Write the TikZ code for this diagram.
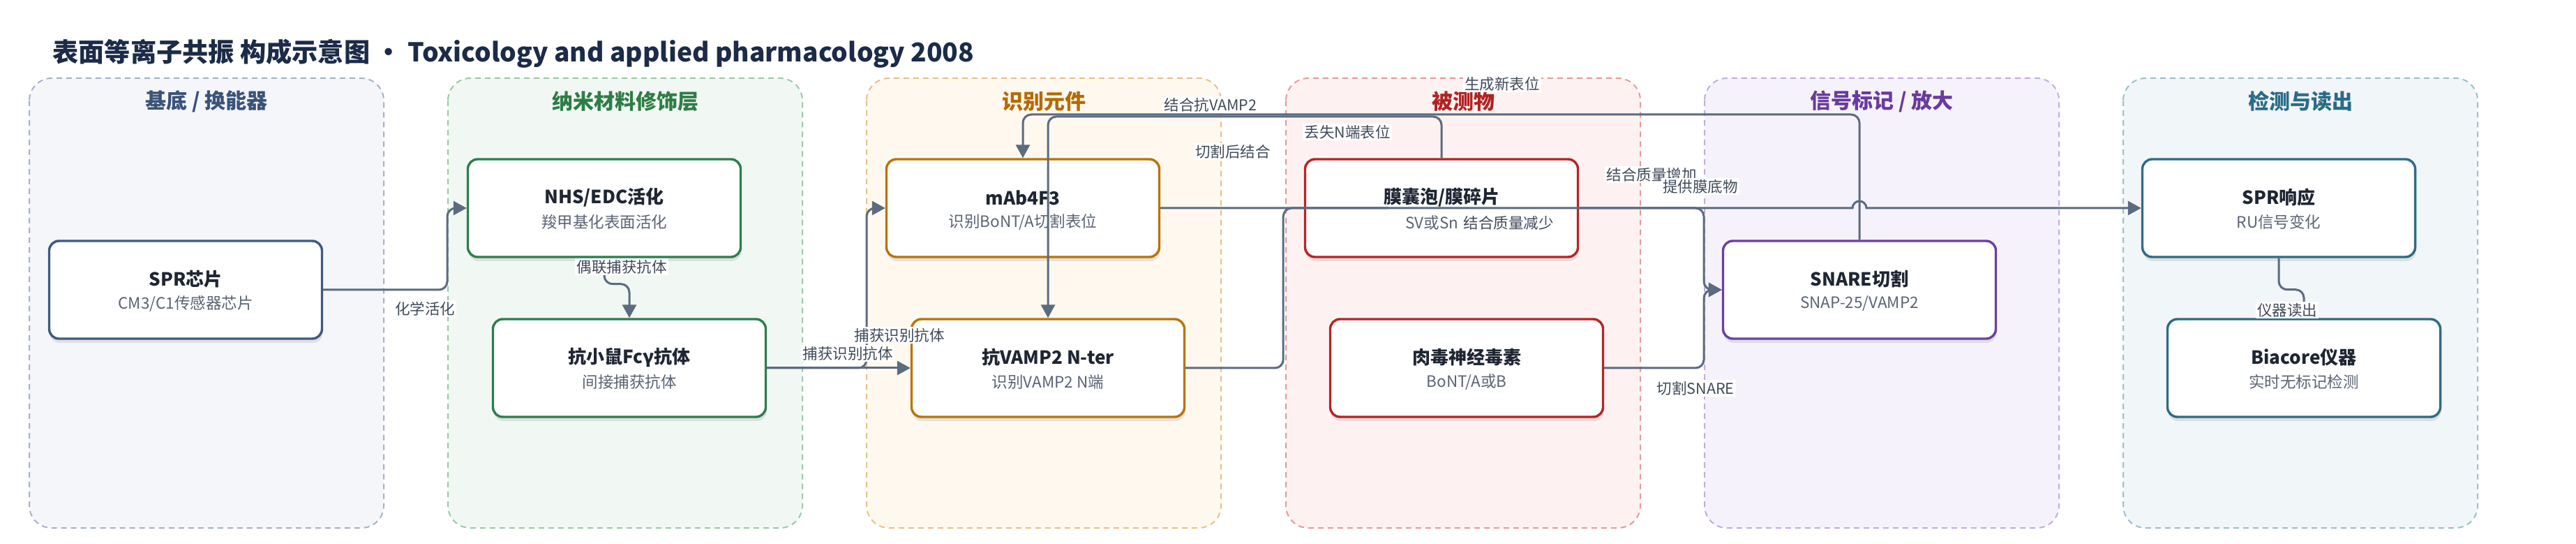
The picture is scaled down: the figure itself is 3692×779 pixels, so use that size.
\documentclass[tikz,border=0pt]{standalone}
\usepackage{fontspec}
\setmainfont{Noto Sans CJK SC}
\usetikzlibrary{arrows.meta,shadows}
\definecolor{titlec}{HTML}{1B2B48}
\definecolor{ttlc}{HTML}{1F2633}
\definecolor{subc}{HTML}{5A6474}
\definecolor{lblc}{HTML}{3F4A5A}
\definecolor{edgec}{HTML}{5B6B80}
% panel colours
\definecolor{pAfill}{HTML}{F4F6FA}\definecolor{pAbord}{HTML}{A7B2C6}\definecolor{pAtxt}{HTML}{3A5378}\definecolor{pAnode}{HTML}{3D5A80}
\definecolor{pBfill}{HTML}{F1F8F3}\definecolor{pBbord}{HTML}{9CC9A9}\definecolor{pBtxt}{HTML}{2E7D46}\definecolor{pBnode}{HTML}{2E7D4F}
\definecolor{pCfill}{HTML}{FEF8EE}\definecolor{pCbord}{HTML}{E6C28C}\definecolor{pCtxt}{HTML}{B36B00}\definecolor{pCnode}{HTML}{B8730A}
\definecolor{pDfill}{HTML}{FDF2F1}\definecolor{pDbord}{HTML}{E59B9B}\definecolor{pDtxt}{HTML}{B02323}\definecolor{pDnode}{HTML}{B52525}
\definecolor{pEfill}{HTML}{F6F2FB}\definecolor{pEbord}{HTML}{C3ADDF}\definecolor{pEtxt}{HTML}{6A3A9E}\definecolor{pEnode}{HTML}{6B3FA0}
\definecolor{pFfill}{HTML}{F1F6F8}\definecolor{pFbord}{HTML}{9DBFCB}\definecolor{pFtxt}{HTML}{2B6C87}\definecolor{pFnode}{HTML}{2F6B85}
\newcommand\mkpanel[5]{% title colour, left x, fill, border, title text
  \draw[panel, fill=#3, draw=#4] (#2,112) rectangle ({#2+508},756);
  \node[ptitle, text=#1] at ({#2+254},145) {#5};
}
\newcommand\mkbox[6]{% name, x, y, colour, title, subtitle
  \node[box, draw=#4] (#1) at (#2,#3) {};
  \node[ttl, yshift=7.5pt] at (#1.center) {#5};
  \node[sub, yshift=-10pt] at (#1.center) {#6};
}
\begin{document}
\begin{tikzpicture}[x=0.5pt,y=-0.5pt,
  panel/.style={line width=1pt, dash pattern=on 4pt off 3pt, rounded corners=16pt},
  ptitle/.style={font=\fontsize{15pt}{18pt}\selectfont\bfseries, inner sep=0pt},
  box/.style={fill=white, line width=1.7pt, rounded corners=7pt, minimum width=195.5pt, minimum height=70pt, inner sep=0pt,
    drop shadow={shadow xshift=0.5pt, shadow yshift=-3pt, opacity=0.13, fill=black!70}},
  ttl/.style={font=\fontsize{13pt}{15pt}\selectfont\bfseries, text=ttlc, inner sep=0pt},
  sub/.style={font=\fontsize{11.25pt}{13pt}\selectfont, text=subc, inner sep=0pt},
  edge/.style={draw=edgec, line width=1.5pt, rounded corners=6pt, -{Triangle[length=9.5pt,width=10pt]}},
  elabel/.style={fill=white, text=lblc, font=\fontsize{10.75pt}{12pt}\selectfont, inner sep=1.2pt}
]
\useasboundingbox (0,0) rectangle (3692,779);
\fill[white] (0,0) rectangle (3692,779);

% title
\node[anchor=west, font=\fontsize{18.6pt}{22pt}\selectfont\bfseries, text=titlec, inner sep=0pt] (title) at (75,77)
  {表面等离子共振 构成示意图 • Toxicology and applied pharmacology 2008};

% panels
\mkpanel{pAtxt}{42}{pAfill}{pAbord}{基底 / 换能器}
\mkpanel{pBtxt}{642}{pBfill}{pBbord}{纳米材料修饰层}
\mkpanel{pCtxt}{1242}{pCfill}{pCbord}{识别元件}
\mkpanel{pDtxt}{1843}{pDfill}{pDbord}{被测物}
\mkpanel{pEtxt}{2443}{pEfill}{pEbord}{信号标记 / 放大}
\mkpanel{pFtxt}{3043}{pFfill}{pFbord}{检测与读出}

% nodes
\mkbox{chip}{266}{415}{pAnode}{SPR芯片}{CM3/C1传感器芯片}
\mkbox{nhs}{866}{298}{pBnode}{NHS/EDC活化}{羧甲基化表面活化}
\mkbox{fcg}{902}{527}{pBnode}{抗小鼠Fcγ抗体}{间接捕获抗体}
\mkbox{mab}{1466}{298}{pCnode}{mAb4F3}{识别BoNT/A切割表位}
\mkbox{nter}{1502}{527}{pCnode}{抗VAMP2 N-ter}{识别VAMP2 N端}
\node[box, draw=pDnode] (mem) at (2066,298) {};
\node[ttl, yshift=7.5pt] at (mem.center) {膜囊泡/膜碎片};
\node[sub, anchor=west] at (2014,319) {SV或Sn};
\mkbox{tox}{2102}{527}{pDnode}{肉毒神经毒素}{BoNT/A或B}
\mkbox{snare}{2665}{415}{pEnode}{SNARE切割}{SNAP-25/VAMP2}
\mkbox{sprr}{3266}{298}{pFnode}{SPR响应}{RU信号变化}
\mkbox{bia}{3302}{527}{pFnode}{Biacore仪器}{实时无标记检测}

% helper coordinates
\coordinate (topA) at (0,164);
\coordinate (topB) at (0,167);
\coordinate (bendC) at (641,298);
\coordinate (bendF) at (1242,298);
\coordinate (mergeE) at (2442,415);
\coordinate (mergeD) at (1990,298);
\coordinate (jumpL) at (2655,298);

% edges
\draw[edge] (chip.east) -| (bendC) -- (nhs.west);
\draw[edge] (nhs.south) -- ++(0,37) -| (fcg.north);
\draw[edge] (fcg.east) -| (bendF) -- (mab.west);
\draw[edge] (fcg.east) -- (nter.west);
\draw[edge] (snare.north) |- (mab.north |- topA) -- (mab.north);
\draw[edge] (mem.north) |- (nter.north |- topB) -- (nter.north);
\draw[edge, sharp corners] (mab.east) -- (jumpL) arc[start angle=180, end angle=0, radius=5pt] -- (sprr.west);
\draw[edge, -] (nter.east) -- ++(140,0) |- (mergeD);
\draw[edge] (mem.east) -| (mergeE) -- (snare.west);
\draw[edge] (tox.east) -| (mergeE) -- (snare.west);
\draw[edge] (sprr.south) -- ++(0,45) -| (bia.north);

% edge labels
\node[elabel] at (609,442) {化学活化};
\node[elabel] at (891,382) {偶联捕获抗体};
\node[elabel] at (1289,480) {捕获识别抗体};
\node[elabel] at (1215,506) {捕获识别抗体};
\node[elabel] at (1735,150) {结合抗VAMP2};
\node[elabel] at (1767,217) {切割后结合};
\node[elabel] at (1931,189) {丢失N端表位};
\node[elabel] at (2153,120) {生成新表位};
\node[elabel] at (2162,319) {结合质量减少};
\node[elabel] at (2367,250) {结合质量增加};
\node[elabel] at (2437,267) {提供膜底物};
\node[elabel] at (2430,556) {切割SNARE};
\node[elabel] at (3278,444) {仪器读出};
\end{tikzpicture}
\end{document}
